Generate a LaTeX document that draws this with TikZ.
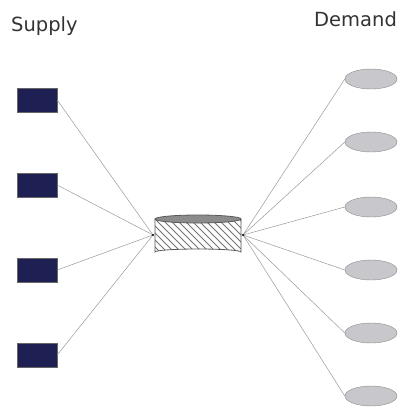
\documentclass[tikz,border=0pt]{standalone}
\usepackage{fontspec}
\setmainfont{DejaVu Sans}
\usetikzlibrary{shapes.geometric}
\begin{document}
\begin{tikzpicture}[x=1pt,y=-1pt,
  supplybox/.style={draw=black!60, fill={rgb,255:red,30;green,31;blue,82}, minimum width=40pt, minimum height=24pt, inner sep=0pt},
  demandell/.style={ellipse, draw=black!45, fill={rgb,255:red,200;green,200;blue,204}, minimum width=52pt, minimum height=20pt, inner sep=0pt},
  link/.style={draw=black!40, line width=0.5pt},
  label/.style={text=black!80, font=\fontsize{19.5}{22}\selectfont, anchor=base west, inner sep=0pt}
]
\useasboundingbox (0,0) rectangle (412,410);
\node[label] (supply) at (11,31) {Supply};
\node[label] (demand) at (314,26) {Demand};
% supply boxes
\node[supplybox] (s1) at (37,100) {};
\node[supplybox] (s2) at (37,185) {};
\node[supplybox] (s3) at (37,270) {};
\node[supplybox] (s4) at (37,355) {};
% demand ellipses
\node[demandell] (d1) at (371,79) {};
\node[demandell] (d2) at (371,142) {};
\node[demandell] (d3) at (371,207) {};
\node[demandell] (d4) at (371,270) {};
\node[demandell] (d5) at (371,333) {};
\node[demandell] (d6) at (371,396) {};
% hub cylinder
\coordinate (hubL) at (153,235);
\coordinate (hubR) at (243,235);
\foreach \s in {s1,s2,s3,s4} \draw[link] (\s.east) -- (hubL);
\foreach \d in {d1,d2,d3,d4,d5,d6} \draw[link] (hubR) -- (\d.west);
\begin{scope}
  \clip (155,219) -- (155,252) arc[start angle=180, end angle=360, x radius=43, y radius=3] -- (241,219) -- cycle;
  \fill[white] (150,210) rectangle (250,260);
  \foreach \i in {-60,-53,...,100} \draw[black!55, line width=1pt] (150+\i,210) -- (200+\i,260);
\end{scope}
\draw[black!65, line width=0.8pt] (155,219) -- (155,252) arc[start angle=180, end angle=360, x radius=43, y radius=3] -- (241,219);
\draw[black!65, line width=0.8pt, fill=black!45] (198,219) ellipse[x radius=43, y radius=4];
\fill[black] (hubL) circle (1.2);
\fill[black] (hubR) circle (1.2);
\end{tikzpicture}
\end{document}
